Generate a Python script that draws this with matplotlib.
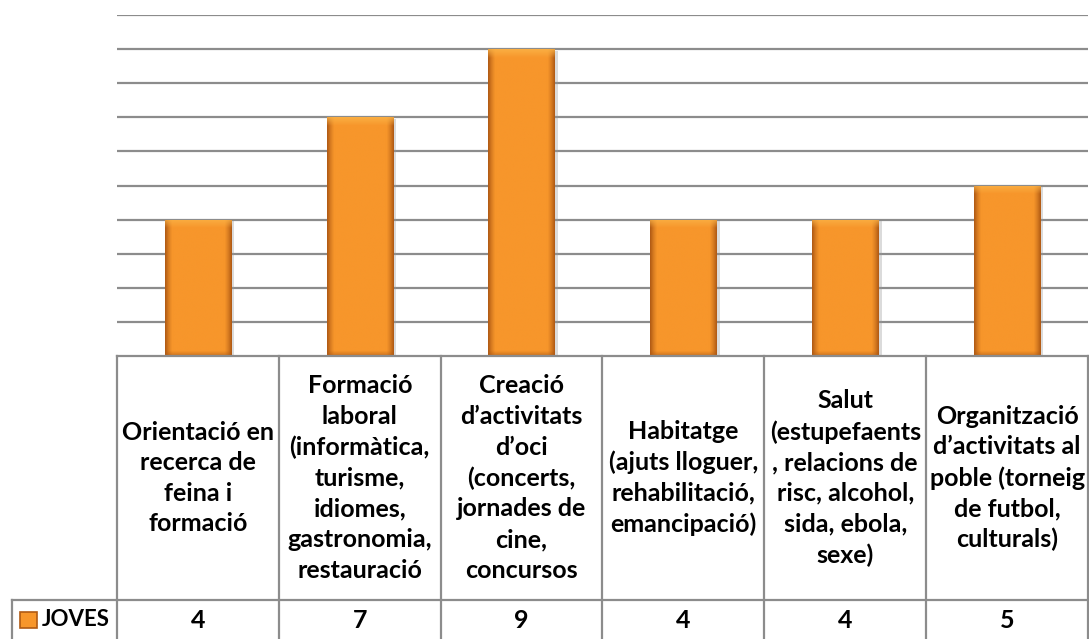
import numpy as np
import matplotlib
matplotlib.use('Agg')
import matplotlib.pyplot as plt
from matplotlib.transforms import blended_transform_factory
from matplotlib.lines import Line2D
from matplotlib.patches import Rectangle
from matplotlib.colors import to_rgb

plt.rcParams['font.family'] = ['Lato', 'DejaVu Sans']

categories = [
    'Orientació en\nrecerca de\nfeina i\nformació',
    'Formació\nlaboral\n(informàtica,\nturisme,\nidiomes,\ngastronomia,\nrestauració',
    'Creació\nd’activitats\nd’oci\n(concerts,\njornades de\ncine,\nconcursos',
    'Habitatge\n(ajuts lloguer,\nrehabilitació,\nemancipació)',
    'Salut\n(estupefaents\n, relacions de\nrisc, alcohol,\nsida, ebola,\nsexe)',
    'Organització\nd’activitats al\npoble (torneig\nde futbol,\nculturals)',
]
values = [4, 7, 9, 4, 4, 5]
series_name = 'JOVES'

W, H = 1089, 639
fig = plt.figure(figsize=(W / 100, H / 100), dpi=100)
ax = fig.add_axes([117 / W, 1 - 356 / H, (1088 - 117) / W, (356 - 15) / H])

x = np.arange(len(values))
bars = ax.bar(x, values, width=0.41, color='#F7952A', edgecolor='none', zorder=3)

# bevelled look: gradient image clipped to each bar
edge = np.array(to_rgb('#B05A14'))
mid = np.array(to_rgb('#F7962B'))
light = np.array(to_rgb('#FBB448'))
for b in bars:
    x0, w, h = b.get_x(), b.get_width(), b.get_height()
    u = np.linspace(0, 1, 120)
    v = np.linspace(0, h, 400)
    U, V = np.meshgrid(u, v)
    side = np.clip(1 - np.minimum(U, 1 - U) / 0.11, 0, 1) ** 1.3
    top = np.clip(1 - (h - V) / 0.25, 0, 1)
    bot = np.clip(1 - V / 0.15, 0, 1)
    img = mid + side[..., None] * (edge - mid)
    img = img + top[..., None] * (light - img) * 0.8
    img = img + bot[..., None] * (edge - img) * 0.6
    im = ax.imshow(np.clip(img, 0, 1), extent=[x0, x0 + w, 0, h], origin='lower',
                   aspect='auto', zorder=4, interpolation='bilinear')
    im.set_clip_path(b)
    # soft shadow
    ax.add_patch(Rectangle((x0 + 0.02, 0), w, h - 0.05, facecolor='#999999',
                           alpha=0.35, edgecolor='none', zorder=2))

ax.set_xlim(-0.5, len(values) - 0.5)
ax.set_ylim(0, 10)
ax.set_yticks(np.arange(1, 11))
ax.yaxis.grid(True, color='#8C8C8C', linewidth=1.6)
ax.set_axisbelow(True)
ax.tick_params(left=False, bottom=False, labelleft=False, labelbottom=False)
for s in ax.spines.values():
    s.set_visible(False)

# data table under the chart
tx = blended_transform_factory(ax.transData, fig.transFigure)
y_top = 1 - 356 / H
y_mid = 1 - 600 / H
y_bot = 1 - 650 / H
grid_c = '#8C8C8C'
for bx in np.arange(len(values) + 1) - 0.5:
    fig.add_artist(Line2D([bx, bx], [y_top, y_bot], transform=tx, color=grid_c, lw=1.6))
fig.add_artist(Line2D([-0.5, len(values) - 0.5], [y_top, y_top], transform=tx, color=grid_c, lw=1.6))
fig.add_artist(Line2D([12 / W, 1], [y_mid, y_mid], transform=fig.transFigure, color=grid_c, lw=1.6))
fig.add_artist(Line2D([12 / W, 12 / W], [y_mid, y_bot], transform=fig.transFigure, color=grid_c, lw=1.6))

for i, lab in enumerate(categories):
    fig.text(i, (y_top + y_mid) / 2, lab, transform=tx, ha='center', va='center',
             multialignment='center', fontsize=18, fontweight='bold', linespacing=1.4)
    fig.text(i, 1 - 620 / H, str(values[i]), transform=tx, ha='center', va='center',
             fontsize=18, fontweight='bold')

# legend key in the row header
fig.add_artist(Rectangle((20 / W, 1 - 628 / H), 17 / W, 16 / H, transform=fig.transFigure,
                         facecolor='#F7962B', edgecolor='#B05A14', lw=1.2))
fig.text(42 / W, 1 - 620 / H, series_name, ha='left', va='center',
         fontsize=16, fontweight='bold')

fig.savefig('out.png', dpi=100)
